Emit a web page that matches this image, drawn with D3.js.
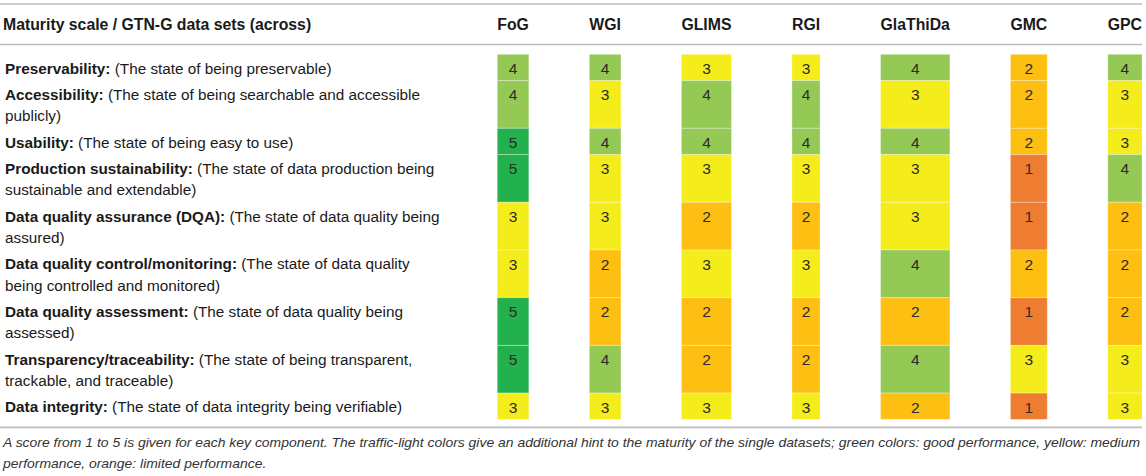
<!DOCTYPE html>
<html>
<head>
  <meta charset="utf-8">
  <style>
    body { margin: 0; background: #fff; }
    svg { display: block; font-family: "Liberation Sans", Arial, Helvetica, sans-serif; }
    line.rule { stroke: #bdbdbd; stroke-width: 1.6; }
    text.head { font-weight: bold; font-size: 15.8px; fill: #1a1a1a; }
    text.label { font-size: 15.3px; fill: #1a1a1a; }
    text.score { font-size: 15.5px; fill: #2b2b2b; text-anchor: middle; }
    text.caption { font-size: 13px; font-style: italic; fill: #333; }
    rect.cell { stroke: rgba(255, 255, 255, 0.3); stroke-width: 1; }
  </style>
</head>
<body>
  <svg id="chart"></svg>

  <script src="https://cdn.jsdelivr.net/npm/d3@7"></script>
  <script>
    var firstHeader = 'Maturity scale / GTN-G data sets (across)';
    var datasets = ['FoG', 'WGI', 'GLIMS', 'RGI', 'GlaThiDa', 'GMC', 'GPC'];

    var components = ['Preservability:', 'Accessibility:', 'Usability:',
      'Production sustainability:', 'Data quality assurance (DQA):',
      'Data quality control/monitoring:', 'Data quality assessment:',
      'Transparency/traceability:', 'Data integrity:'];

    // description text, already broken into lines as in the table
    var descriptions = [
      ['(The state of being preservable)'],
      ['(The state of being searchable and accessible', 'publicly)'],
      ['(The state of being easy to use)'],
      ['(The state of data production being', 'sustainable and extendable)'],
      ['(The state of data quality being', 'assured)'],
      ['(The state of data quality', 'being controlled and monitored)'],
      ['(The state of data quality being', 'assessed)'],
      ['(The state of being transparent,', 'trackable, and traceable)'],
      ['(The state of data integrity being verifiable)']
    ];

    // rows = components, columns = datasets
    var scores = [
      [4, 4, 3, 3, 4, 2, 4],
      [4, 3, 4, 4, 3, 2, 3],
      [5, 4, 4, 4, 4, 2, 3],
      [5, 3, 3, 3, 3, 1, 4],
      [3, 3, 2, 2, 3, 1, 2],
      [3, 2, 3, 3, 4, 2, 2],
      [5, 2, 2, 2, 2, 1, 2],
      [5, 4, 2, 2, 4, 3, 3],
      [3, 3, 3, 3, 2, 1, 3]
    ];

    var captionLines = [
      'A score from 1 to 5 is given for each key component. The traffic-light colors give an additional hint to the maturity of the single datasets; green colors: good performance, yellow: medium',
      'performance, orange: limited performance.'
    ];

    var width = 1146, height = 476;
    var left = 5, right = 1142;
    var topRule = 4, headRule = 44.5, bodyTop = 54.3;
    var lineH = 21.4, rowPad = 4.9, gap = 60.5;

    var svg = d3.select('#chart')
      .attr('width', width)
      .attr('height', height);

    var color = d3.scaleOrdinal()
      .domain([1, 2, 3, 4, 5])
      .range(['#ee7d31', '#fdbf12', '#f5ec1b', '#94c955', '#22b14c']);

    // header labels first, their widths set the column widths (like a table)
    var heads = svg.selectAll('text.col')
      .data(datasets)
      .enter()
      .append('text')
      .attr('class', 'head col')
      .attr('y', 30)
      .attr('text-anchor', 'middle')
      .text(d => d);

    var colW = [];
    heads.each(function () { colW.push(this.getComputedTextLength()); });
    var total = d3.sum(colW) + gap * (datasets.length - 1);
    var colX = [];
    colW.reduce((x, w) => { colX.push(x); return x + w + gap; }, right - total);

    heads.attr('x', (d, i) => colX[i] + colW[i] / 2);

    svg.append('text')
      .attr('class', 'head')
      .attr('x', left - 2)
      .attr('y', 30)
      .text(firstHeader);

    // row tops from line counts
    var rowH = descriptions.map(d => rowPad + d.length * lineH);
    var rowY = [];
    rowH.reduce((y, h) => { rowY.push(y); return y + h; }, bodyTop);
    var bodyBottom = rowY[rowY.length - 1] + rowH[rowH.length - 1];

    var rows = svg.selectAll('g.row')
      .data(scores)
      .enter()
      .append('g')
      .attr('class', 'row')
      .attr('transform', (d, i) => 'translate(0,' + rowY[i] + ')');

    rows.selectAll('rect')
      .data((d, i) => d.map(v => ({ v: v, h: rowH[i] })))
      .enter()
      .append('rect')
      .attr('class', 'cell')
      .attr('x', (d, j) => colX[j])
      .attr('y', 0)
      .attr('width', (d, j) => colW[j])
      .attr('height', d => d.h)
      .attr('fill', d => color(d.v));

    rows.selectAll('text.score')
      .data(d => d)
      .enter()
      .append('text')
      .attr('class', 'score')
      .attr('x', (d, j) => colX[j] + colW[j] / 2)
      .attr('y', 19.6)
      .text(d => d);

    // left column labels
    rows.each(function (d, i) {
      var g = d3.select(this);
      descriptions[i].forEach((line, k) => {
        var t = g.append('text')
          .attr('class', 'label')
          .attr('x', left)
          .attr('y', 19.4 + k * lineH);
        if (k === 0) {
          t.append('tspan').attr('font-weight', 'bold').text(components[i] + ' ');
        }
        t.append('tspan').text(line);
      });
    });

    // horizontal rules
    svg.selectAll('line.rule')
      .data([topRule, headRule, bodyBottom + 8])
      .enter()
      .append('line')
      .attr('class', 'rule')
      .attr('x1', 0)
      .attr('x2', right)
      .attr('y1', d => d)
      .attr('y2', d => d);

    // caption, squeezed to the width of the table like the narrow italic face
    var cap = svg.selectAll('text.caption')
      .data(captionLines)
      .enter()
      .append('text')
      .attr('class', 'caption')
      .attr('x', 3)
      .attr('y', (d, i) => 447 + i * 20.5)
      .text(d => d);

    var natural = cap.nodes()[0].getComputedTextLength();
    var squeeze = (1140 - 3) / natural;
    cap.each(function () {
      d3.select(this)
        .attr('textLength', this.getComputedTextLength() * squeeze)
        .attr('lengthAdjust', 'spacingAndGlyphs');
    });
  </script>
</body>
</html>
